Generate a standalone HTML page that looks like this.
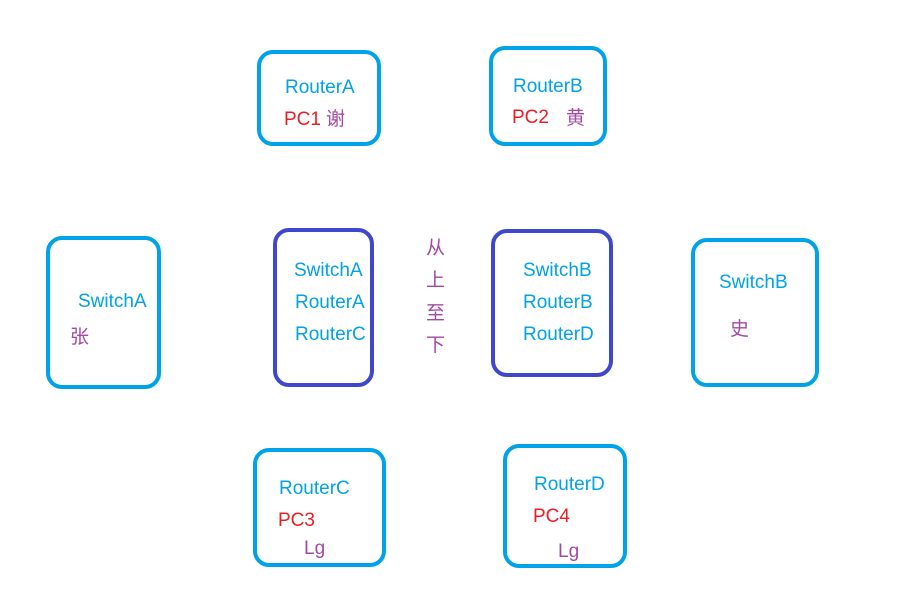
<!DOCTYPE html>
<html><head><meta charset="utf-8"><style>
body{margin:0;width:914px;height:603px;background:#fff;position:relative;overflow:hidden;font-family:"Liberation Sans","Noto Sans CJK SC",sans-serif;font-size:19px}
.b{position:absolute;box-sizing:border-box;border:4px solid #00a2e8;border-radius:16px}
.d{border-color:#3f48cc}
.t{position:absolute;line-height:24px;white-space:nowrap;color:#00a2e8}
.r{color:#ed1c24}.p{color:#a349a4}
</style></head><body>
<div class="b" style="left:257px;top:50px;width:124px;height:96px"></div>
<div class="b" style="left:489px;top:46px;width:118px;height:100px"></div>
<div class="b" style="left:46px;top:236px;width:115px;height:153px"></div>
<div class="b d" style="left:273px;top:228px;width:101px;height:159px"></div>
<div class="b d" style="left:491px;top:229px;width:122px;height:148px"></div>
<div class="b" style="left:691px;top:238px;width:128px;height:149px"></div>
<div class="b" style="left:253px;top:448px;width:133px;height:119px"></div>
<div class="b" style="left:503px;top:444px;width:124px;height:124px"></div>

<div class="t" style="left:285px;top:76px">RouterA</div>
<div class="t r" style="left:284px;top:108px">PC1</div>
<div class="t p" style="left:326px;top:108px">谢</div>
<div class="t" style="left:513px;top:75px">RouterB</div>
<div class="t r" style="left:512px;top:106px">PC2</div>
<div class="t p" style="left:566px;top:107px">黄</div>

<div class="t" style="left:78px;top:290px">SwitchA</div>
<div class="t p" style="left:70px;top:326px">张</div>

<div class="t" style="left:294px;top:259px">SwitchA</div>
<div class="t" style="left:295px;top:291px">RouterA</div>
<div class="t" style="left:295px;top:323px">RouterC</div>

<div class="t p" style="left:426px;top:237px">从</div>
<div class="t p" style="left:426px;top:269px">上</div>
<div class="t p" style="left:426px;top:302px">至</div>
<div class="t p" style="left:426px;top:334px">下</div>

<div class="t" style="left:523px;top:259px">SwitchB</div>
<div class="t" style="left:523px;top:291px">RouterB</div>
<div class="t" style="left:523px;top:323px">RouterD</div>

<div class="t" style="left:719px;top:271px">SwitchB</div>
<div class="t p" style="left:730px;top:318px">史</div>

<div class="t" style="left:279px;top:477px">RouterC</div>
<div class="t r" style="left:278px;top:509px">PC3</div>
<div class="t p" style="left:304px;top:537px">Lg</div>

<div class="t" style="left:534px;top:473px">RouterD</div>
<div class="t r" style="left:533px;top:505px">PC4</div>
<div class="t p" style="left:558px;top:540px">Lg</div>
</body></html>
